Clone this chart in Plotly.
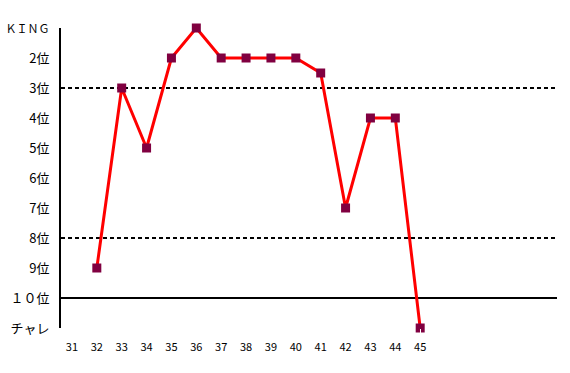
import plotly.graph_objects as go

x_vals = [32, 33, 34, 35, 36, 37, 38, 39, 40, 41, 42, 43, 44, 45]
ranks = [9, 3, 5, 2, 1, 2, 2, 2, 2, 2.5, 7, 4, 4, 11]
x_ticks = list(range(31, 46))
y_tickvals = [1, 2, 3, 4, 5, 6, 7, 8, 9, 10, 11]
y_ticktext = ["<span style='font-size:11px'>ＫＩＮＧ</span>", "2位", "3位", "4位", "5位", "6位",
              "7位", "8位", "9位", "１０位", "チャレ"]
ref_lines = [(3, "4px,3px"), (8, "4px,3px"), (10, "solid")]

fig = go.Figure()
fig.add_trace(go.Scatter(
    x=x_vals, y=ranks, mode="lines+markers",
    line=dict(color="#FF0000", width=3),
    marker=dict(symbol="square", size=9, color="#800040"),
    cliponaxis=False, showlegend=False,
))
for yv, dash in ref_lines:
    fig.add_shape(type="line", xref="paper", x0=0, x1=1, yref="y", y0=yv, y1=yv,
                  line=dict(color="black", width=2, dash=dash), layer="below")

fig.update_layout(
    width=570, height=373,
    margin=dict(l=61, r=13, t=28, b=45, autoexpand=False),
    paper_bgcolor="white", plot_bgcolor="white",
    font=dict(family="Noto Sans CJK JP", color="black"),
    xaxis=dict(range=[30.56, 50.5], tickvals=x_ticks, showgrid=False, zeroline=False,
               showline=False, ticks="outside", ticklen=9, tickcolor="white",
               automargin=False,
               tickfont=dict(size=11, family="Liberation Sans Narrow, Noto Sans CJK JP")),
    yaxis=dict(range=[11, 1], tickvals=y_tickvals, ticktext=y_ticktext, showgrid=False,
               zeroline=False, showline=True, linewidth=2, linecolor="black",
               ticks="outside", ticklen=7, tickcolor="white", automargin=False,
               tickfont=dict(size=13)),
)
fig.write_html("out.html")
